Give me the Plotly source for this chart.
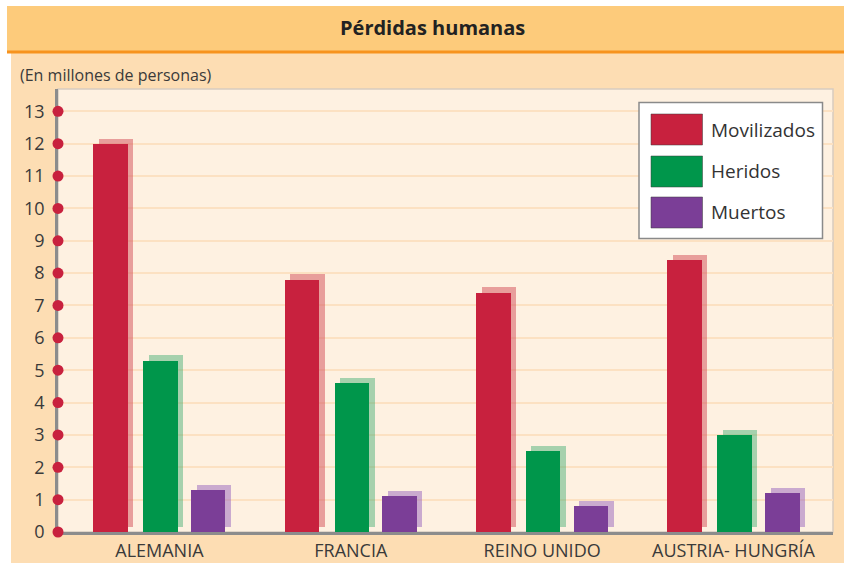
import plotly.graph_objects as go

# ---- data ----
categories = ["ALEMANIA", "FRANCIA", "REINO UNIDO", "AUSTRIA- HUNGRÍA"]
series_names = ["Movilizados", "Heridos", "Muertos"]
movilizados = [12.0, 7.8, 7.4, 8.4]
heridos = [5.3, 4.6, 2.5, 3.0]
muertos = [1.3, 1.1, 0.8, 1.2]
y_ticks = list(range(0, 14))
title_text = "Pérdidas humanas"
subtitle_text = "(En millones de personas)"

# ---- style ----
W, H = 844, 563
ML, MR, MT, MB = 58, 11, 89, 31
PW, PH = W - ML - MR, H - MT - MB
XR = [-0.53, 3.52]
YR = [0, 13.69]

colors = ["#C8213E", "#00964B", "#7B3E97"]
shadow_colors = ["rgba(214,90,98,0.55)", "rgba(60,170,110,0.45)", "rgba(150,100,190,0.5)"]
offsets = [-0.345, -0.085, 0.165]
bar_w = 0.18
shadow_dx = 0.029
shadow_base = 0.16
FONT = "Open Sans"
TXT = "#3a3a3a"


def px_x(px):
    return (px - ML) / PW


def px_y(py):
    return (H - MB - py) / PH


fig = go.Figure()
x_pos = list(range(len(categories)))
values = [movilizados, heridos, muertos]

# shadows
for i, vals in enumerate(values):
    fig.add_trace(go.Bar(
        x=x_pos, y=vals, base=[shadow_base] * len(vals),
        offset=offsets[i] + shadow_dx, width=bar_w,
        marker=dict(color=shadow_colors[i], line=dict(width=0)),
        showlegend=False, hoverinfo="skip"))
# front bars
for i, vals in enumerate(values):
    fig.add_trace(go.Bar(
        x=x_pos, y=vals, name=series_names[i],
        offset=offsets[i], width=bar_w,
        marker=dict(color=colors[i], line=dict(width=0)),
        showlegend=False))

# red dots on y axis
fig.add_trace(go.Scatter(
    x=[XR[0]] * len(y_ticks), y=y_ticks, mode="markers",
    marker=dict(size=11, color="#C8213E"), cliponaxis=False,
    showlegend=False, hoverinfo="skip"))

shapes = [
    # peach panel
    dict(type="rect", xref="paper", yref="paper", x0=px_x(11), x1=px_x(W + 5),
         y0=px_y(H + 5), y1=px_y(52), fillcolor="#FDDDB3", line=dict(width=0), layer="below"),
    # title band
    dict(type="rect", xref="paper", yref="paper", x0=px_x(7), x1=px_x(W + 5),
         y0=px_y(51), y1=px_y(6), fillcolor="#FDCB7B", line=dict(width=0), layer="below"),
    # orange rule
    dict(type="line", xref="paper", yref="paper", x0=px_x(7), x1=px_x(W + 5),
         y0=px_y(52), y1=px_y(52), line=dict(color="#F7931E", width=3), layer="below"),
    # plot background
    dict(type="rect", xref="paper", yref="paper", x0=0, x1=1, y0=0, y1=1,
         fillcolor="#FEF1E1", line=dict(color="#D8CCC0", width=1.5), layer="below"),
]

# custom legend
shapes.append(dict(type="rect", xref="paper", yref="paper",
                   x0=px_x(639), x1=px_x(822.5), y0=px_y(238.5), y1=px_y(102.5),
                   fillcolor="white", line=dict(color="#8a8a8a", width=1.5), layer="above"))
sw_tops = [114, 156, 197]
txt_c = [130, 171, 212]
annotations = []
for i, name in enumerate(series_names):
    shapes.append(dict(type="rect", xref="paper", yref="paper",
                       x0=px_x(651), x1=px_x(702.5), y0=px_y(sw_tops[i] + 31), y1=px_y(sw_tops[i]),
                       fillcolor=colors[i], line=dict(color="rgba(60,60,60,0.5)", width=1), layer="above"))
    annotations.append(dict(xref="paper", yref="paper", x=px_x(709), y=px_y(txt_c[i]),
                            text=name, showarrow=False, xanchor="left", yanchor="middle",
                            font=dict(family=FONT, size=19, color="#333333")))

annotations.append(dict(xref="paper", yref="paper", x=px_x(432), y=px_y(27),
                        text="<b>" + title_text + "</b>", showarrow=False,
                        xanchor="center", yanchor="middle",
                        font=dict(family=FONT, size=20, color="#222222")))
annotations.append(dict(xref="paper", yref="paper", x=px_x(18), y=px_y(75),
                        text=subtitle_text, showarrow=False,
                        xanchor="left", yanchor="middle",
                        font=dict(family=FONT, size=16, color=TXT)))

fig.update_layout(
    width=W, height=H,
    margin=dict(l=ML, r=MR, t=MT, b=MB, autoexpand=False),
    paper_bgcolor="white", plot_bgcolor="rgba(0,0,0,0)",
    barmode="overlay", bargap=0,
    showlegend=False,
    shapes=shapes, annotations=annotations,
    xaxis=dict(range=XR, tickvals=x_pos, ticktext=categories,
               showgrid=False, zeroline=False, showline=True,
               linecolor="#8c8c8c", linewidth=2.5, ticks="",
               ticklabelstandoff=1, layer="below traces",
               tickfont=dict(family=FONT, size=18, color=TXT), fixedrange=True),
    yaxis=dict(range=YR, tickvals=y_ticks, showgrid=True, gridcolor="#FCE1C2",
               gridwidth=1.5, zeroline=False, showline=True,
               linecolor="#8c8c8c", linewidth=2.5, ticks="",
               ticklabelstandoff=7, layer="below traces",
               tickfont=dict(family=FONT, size=18, color=TXT), fixedrange=True),
)

fig.write_html(
    "out.html",
    config={"displayModeBar": False},
    post_script="document.body.style.margin='0';document.body.style.overflow='hidden';",
)
